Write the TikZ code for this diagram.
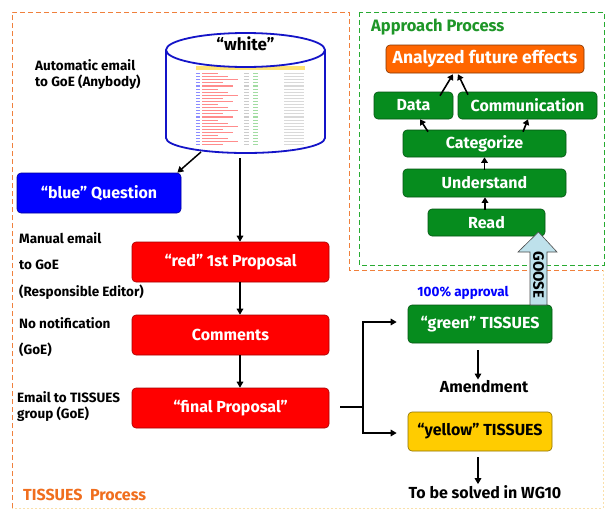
\documentclass[tikz,border=0pt]{standalone}
\usepackage{fontspec}
\setmainfont{Fira Sans}
\usetikzlibrary{arrows.meta}
\definecolor{boxred}{RGB}{255,0,0}
\definecolor{boxblue}{RGB}{0,0,255}
\definecolor{boxgreen}{RGB}{6,140,30}
\definecolor{boxorange}{RGB}{255,102,0}
\definecolor{boxyellow}{RGB}{255,204,0}
\definecolor{dashorange}{RGB}{240,128,60}
\definecolor{dashgreen}{RGB}{40,170,50}
\definecolor{paleorange}{RGB}{250,224,170}
\definecolor{titlegreen}{RGB}{30,150,40}
\definecolor{titleorange}{RGB}{240,110,30}
\definecolor{cylblue}{RGB}{20,20,200}
\definecolor{gooseblue}{RGB}{190,225,235}
\begin{document}
\begin{tikzpicture}[x=1pt,y=-1pt,
  boxbase/.style={rectangle, rounded corners=4pt, line width=0.6pt, inner sep=0pt,
    font=\bfseries\fontsize{16}{16}\selectfont, text=white},
  redbox/.style={boxbase, fill=boxred, draw=boxred!65!black, minimum width=197pt, minimum height=40pt},
  bluebox/.style={boxbase, fill=boxblue, draw=boxblue!60!black, minimum width=164pt, minimum height=40pt},
  greenbox/.style={boxbase, fill=boxgreen, draw=boxgreen!60!black},
  orangebox/.style={boxbase, fill=boxorange, draw=boxorange!50!black},
  yellowbox/.style={boxbase, fill=boxyellow, draw=boxyellow!55!black, text=black},
  lbl/.style={anchor=west, inner sep=0pt, font=\bfseries\fontsize{13.5}{13.5}\selectfont},
  plain/.style={inner sep=1pt, font=\bfseries\fontsize{16}{16}\selectfont},
  conn/.style={line width=1.5pt, black},
  arr/.style={conn, -{Triangle[length=6pt,width=6.5pt]}},
  garr/.style={line width=1.6pt, black, -{Triangle[length=5.5pt,width=6.5pt]}}
]
\useasboundingbox (0,0) rectangle (606,512);
\fill[white] (0,0) rectangle (606,512);

% ---------- frames ----------
\draw[dashorange, line width=1pt, dash pattern=on 5pt off 3pt]
  (12,508) -- (12,12) -- (349,12) -- (349,270) -- (603,270);
\draw[paleorange, line width=1pt, dash pattern=on 2pt off 2pt]
  (603,270) -- (603,508) -- (12,508);
\draw[dashgreen, line width=1pt, dash pattern=on 5pt off 3pt]
  (359,12) rectangle (604,265);

\node[anchor=west, inner sep=0pt, text=titlegreen, font=\bfseries\fontsize{16.5}{16.5}\selectfont] (aptitle) at (371,27) {Approach Process};
\node[anchor=west, inner sep=0pt, text=titleorange, font=\bfseries\fontsize{16}{16}\selectfont] (tptitle) at (23,495) {TISSUES\ \ Process};

% ---------- cylinder "white" ----------
\fill[white] (166,50) -- (166,138) arc[start angle=180, end angle=0, x radius=79.5, y radius=15] -- (325,50) -- cycle;
% tiny table picture
\fill[boxyellow!55] (196,66) rectangle (305,70);
\foreach \i in {0,...,23}{
  \pgfmathsetmacro{\yy}{73+3.1*\i}
  \pgfmathsetmacro{\ll}{218+mod(\i*7,5)*5}
  \fill[blue!45] (196,\yy) rectangle (200,\yy+1.1);
  \fill[red!45] (202,\yy) rectangle (\ll,\yy+1.1);
  \fill[gray!40] (244,\yy) rectangle (249,\yy+1.1);
  \fill[green!45!gray!50] (253,\yy) rectangle (258,\yy+1.1);
  \fill[gray!30] (284,\yy) rectangle (304,\yy+1.1);
}
\draw[cylblue, line width=1.8pt] (166,50) -- (166,138) arc[start angle=180, end angle=0, x radius=79.5, y radius=15] -- (325,50);
\draw[cylblue, line width=1.8pt, fill=white] (245.5,50) ellipse[x radius=79.5, y radius=17];
\node[inner sep=0pt, font=\bfseries\fontsize{17}{17}\selectfont] (white) at (245.5,44) {“white”};
\coordinate (cylA) at (201,152);
\coordinate (cylB) at (240,158);

\node[lbl] (auto1) at (35,65) {Automatic email};
\node[lbl] (auto2) at (35,82) {to GoE (Anybody)};

% ---------- TISSUES process ----------
\node[bluebox] (blue) at (99,193) {“blue” Question};
\node[redbox] (red1) at (230.5,262) {“red” 1st Proposal};
\node[redbox] (comm) at (230.5,335) {Comments};
\node[redbox] (final) at (230.5,408) {“final Proposal”};

\draw[arr] (cylA) -- ([xshift=-4pt]blue.north east);
\draw[arr] (cylB) -- ([xshift=9.5pt]red1.north);
\draw[arr] ([xshift=9.5pt]red1.south) -- ([xshift=9.5pt]comm.north);
\draw[arr] ([xshift=9.5pt]comm.south) -- ([xshift=9.5pt]final.north);

\node[lbl] (man1) at (19,238) {Manual email};
\node[lbl] (man2) at (19,265) {to GoE};
\node[lbl] (man3) at (19,292) {(Responsible Editor)};
\node[lbl] (nonot1) at (19,323) {No notification};
\node[lbl] (nonot2) at (19,350) {(GoE)};
\node[lbl] (em1) at (17,397) {Email to TISSUES};
\node[lbl] (em2) at (17,414) {group (GoE)};

% ---------- right branch ----------
\node[greenbox, minimum width=144pt, minimum height=38pt] (gt) at (480,324) {“green” TISSUES};
\node[yellowbox, minimum width=144pt, minimum height=39pt] (yt) at (480,431.5) {“yellow” TISSUES};
\node[inner sep=0pt, text=boxblue, font=\bfseries\fontsize{13.5}{13.5}\selectfont] (appr) at (463,293) {100\% approval};
\node[plain] (amend) at (484,387) {Amendment};
\node[plain] (wg) at (485,492) {To be solved in WG10};

\coordinate (split) at (363,407);
\draw[conn] ([xshift=11pt,yshift=1pt]final.east) -- (split);
\draw[arr, shorten >=11pt] (split) |- ([yshift=2pt]gt.west);
\draw[arr, shorten >=11pt] (split) |- ([yshift=-1.5pt]yt.west);
\draw[arr, shorten <=7pt] ([xshift=-2pt]gt.south) -- ([xshift=-2pt]gt.south |- amend.north);
\draw[arr, shorten <=6pt] ([xshift=-2pt]yt.south) -- ([xshift=-2pt]yt.south |- wg.north);

% ---------- approach process ----------
\node[orangebox, minimum width=198pt, minimum height=28pt, font=\bfseries\fontsize{17.5}{17.5}\selectfont] (afe) at (485,59) {Analyzed future effects};
\node[greenbox, minimum width=79pt, minimum height=27pt] (data) at (413.5,105.5) {Data};
\node[greenbox, minimum width=139pt, minimum height=27pt] (commun) at (527.5,105.5) {Communication};
\node[greenbox, minimum width=163pt, minimum height=27pt] (categ) at (484.5,143.5) {Categorize};
\node[greenbox, minimum width=163pt, minimum height=28pt] (under) at (484.5,183) {Understand};
\node[greenbox, minimum width=117pt, minimum height=27pt] (read) at (486.5,222.5) {Read};

\draw[garr] ([xshift=26.5pt,yshift=-4pt]data.north) -- ([xshift=-32pt,yshift=-1pt]afe.south);
\draw[garr] ([xshift=-59.5pt,yshift=-3pt]commun.north) -- ([xshift=-27pt,yshift=-1pt]afe.south);
\draw[garr] ([xshift=-56.5pt,yshift=-2pt]categ.north) -- ([xshift=6.5pt]data.south);
\draw[garr] ([xshift=38.5pt,yshift=-2pt]categ.north) -- ([xshift=0.5pt]commun.south);
\draw[garr] ([yshift=-1pt]under.north) -- (categ.south);
\draw[garr] ([xshift=-1.5pt,yshift=-1pt]read.north) -- ([xshift=0.5pt]under.south);

% ---------- GOOSE arrow ----------
\draw[fill=gooseblue, draw=black!70, line width=0.6pt]
  (530,305) -- (530,252) -- (518,252) -- (538.5,232) -- (557,252) -- (547,252) -- (547,305) -- cycle;
\node[rotate=-90, inner sep=0pt, font=\bfseries\fontsize{15}{15}\selectfont] (goose) at (538.5,275) {GOOSE};
\end{tikzpicture}
\end{document}
